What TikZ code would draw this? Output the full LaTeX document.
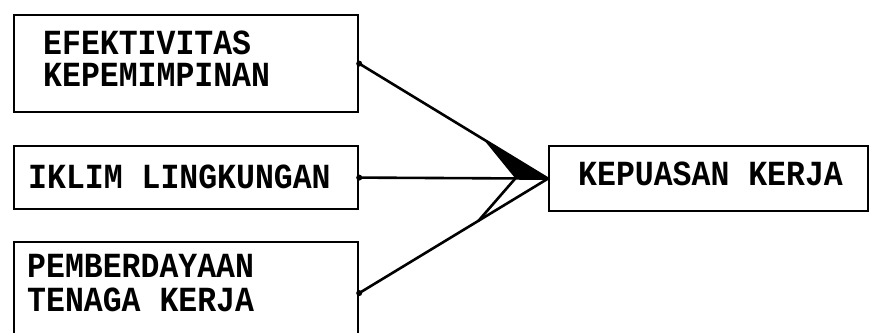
\documentclass[tikz,border=0pt]{standalone}
\usepackage{fontspec}
\usepackage{graphicx}
\setmonofont{Liberation Mono}
\usetikzlibrary{calc}
\newcommand{\boxtxt}[1]{\scalebox{1}[1.12]{#1}}
\begin{document}
\begin{tikzpicture}[x=1pt,y=-1pt,
  box/.style={draw,line width=2.2pt,rectangle,inner sep=0pt,anchor=north west},
  lbl/.style={anchor=base west,inner sep=0pt,font=\ttfamily\bfseries\fontsize{31.5}{31.5}\selectfont},
  conn/.style={line width=2.6pt},
  dotc/.style={fill=black,circle,inner sep=0pt,minimum size=6pt}]
\useasboundingbox (0,0) rectangle (870,332);
\node[box,minimum width=344pt,minimum height=97pt] (b1) at (13,14) {};
\node[box,minimum width=344pt,minimum height=63pt] (b2) at (13,145) {};
\node[box,minimum width=344pt,minimum height=102pt] (b3) at (13,241) {};
\node[box,minimum width=319pt,minimum height=65pt] (b4) at (548,145) {};
\node[lbl] (t1a) at (43,54) {\boxtxt{EFEKTIVITAS}};
\node[lbl] (t1b) at (43,86) {\boxtxt{KEPEMIMPINAN}};
\node[lbl] (t2) at (28,188) {\boxtxt{IKLIM LINGKUNGAN}};
\node[lbl] (t3a) at (27,277) {\boxtxt{PEMBERDAYAAN}};
\node[lbl] (t3b) at (27,311) {\boxtxt{TENAGA KERJA}};
\node[lbl] (t4) at (578,185) {\boxtxt{KEPUASAN KERJA}};
\draw[conn] (b1.east) -- (b4.west);
\draw[conn] (b2.east) -- (b4.west);
\draw[conn] (b3.east) -- (b4.west);
\node[dotc] (d1) at (b1.east) {};
\node[dotc] (d2) at (b2.east) {};
\node[dotc] (d3) at (b3.east) {};
\coordinate (p1) at ($(b1.east)!0.658!(b4.west)$);
\coordinate (p2) at ($(b2.east)!0.827!(b4.west)$);
\coordinate (p3) at ($(b3.east)!0.632!(b4.west)$);
\fill[line join=miter] (p1) -- (p2) -- (b4.west) -- cycle;
\draw[conn] (p3) -- (p2);
\end{tikzpicture}
\end{document}
